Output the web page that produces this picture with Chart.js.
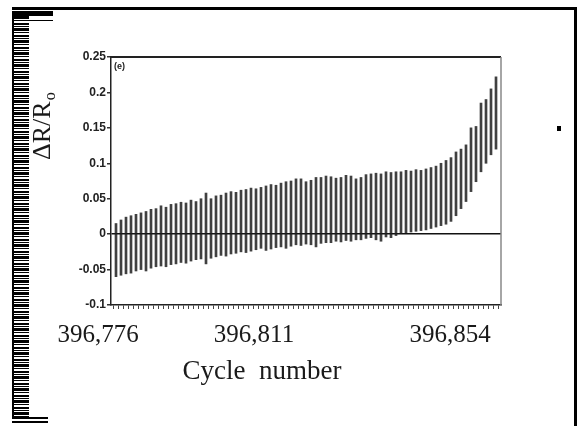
<!DOCTYPE html>
<html>
<head>
<meta charset="utf-8">
<script src="https://cdn.jsdelivr.net/npm/chart.js@4/dist/chart.umd.min.js"></script>
<style>
  html, body { margin: 0; padding: 0; background: #fff; }
  #wrap { position: relative; width: 581px; height: 426px; overflow: hidden; }
  canvas { position: absolute; left: 0; top: 0; }
  .frameTop { position: absolute; left: 12px; top: 7px; width: 565px; height: 3px; background: #000; }
  .frameRight { position: absolute; left: 574px; top: 7px; width: 3px; height: 419px; background: #000; }
  .strip { position: absolute; left: 12px; top: 11px; width: 15px; height: 408px;
    border-left: 2px solid #000;
    background: repeating-linear-gradient(to bottom, #000 0 2px, #fff 2px 3px, #000 3px 4px, #fff 4px 5px, #000 5px 8px, #fff 8px 9px, #000 9px 10px, #fff 10px 12px); }
  .block { position: absolute; left: 12px; top: 11px; width: 41px; height: 5px; background: #000; }
  .block2 { position: absolute; left: 27px; top: 20px; width: 26px; height: 1px; background: #000; }
  .foot { position: absolute; left: 12px; top: 417px; width: 36px; height: 2px; background: #000; }
  .foot2 { position: absolute; left: 12px; top: 421px; width: 36px; height: 2px; background: #000; }
  .dot { position: absolute; left: 557px; top: 126px; width: 4px; height: 5px; background: #000; }
</style>
</head>
<body>
<div id="wrap">
  <canvas id="chartCanvas" width="581" height="426"></canvas>
  <div class="frameTop"></div>
  <div class="frameRight"></div>
  <div class="strip"></div>
  <div class="block"></div>
  <div class="block2"></div>
  <div class="foot"></div>
  <div class="foot2"></div>
  <div class="dot"></div>
</div>
<script>
// cycle numbers, one swing per cycle
const cycles = [
  396777, 396778, 396779, 396780, 396781, 396782, 396783, 396784, 396785, 396786,
  396787, 396788, 396789, 396790, 396791, 396792, 396793, 396794, 396795, 396796,
  396797, 396798, 396799, 396800, 396801, 396802, 396803, 396804, 396805, 396806,
  396807, 396808, 396809, 396810, 396811, 396812, 396813, 396814, 396815, 396816,
  396817, 396818, 396819, 396820, 396821, 396822, 396823, 396824, 396825, 396826,
  396827, 396828, 396829, 396830, 396831, 396832, 396833, 396834, 396835, 396836,
  396837, 396838, 396839, 396840, 396841, 396842, 396843, 396844, 396845, 396846,
  396847, 396848, 396849, 396850, 396851, 396852, 396853
];

// peak of each cycle (dR/Ro)
const highs = [
  0.015, 0.020, 0.024, 0.026, 0.028, 0.030, 0.032, 0.035, 0.036, 0.040,
  0.038, 0.042, 0.043, 0.045, 0.044, 0.048, 0.046, 0.050, 0.058, 0.050,
  0.054, 0.055, 0.058, 0.060, 0.059, 0.062, 0.063, 0.065, 0.064, 0.066,
  0.068, 0.070, 0.069, 0.072, 0.074, 0.075, 0.078, 0.078, 0.074, 0.076,
  0.080, 0.080, 0.082, 0.081, 0.079, 0.080, 0.083, 0.082, 0.078, 0.080,
  0.084, 0.085, 0.086, 0.085, 0.088, 0.087, 0.088, 0.088, 0.090, 0.089,
  0.091, 0.090, 0.092, 0.094, 0.096, 0.100, 0.104, 0.108, 0.116, 0.120,
  0.126, 0.150, 0.152, 0.185, 0.190, 0.205, 0.222
];

// trough of each cycle
const lows = [
  -0.060, -0.058, -0.056, -0.055, -0.052, -0.050, -0.052, -0.048, -0.046, -0.045,
  -0.046, -0.043, -0.042, -0.040, -0.041, -0.038, -0.036, -0.035, -0.042, -0.034,
  -0.032, -0.030, -0.031, -0.028, -0.027, -0.025, -0.026, -0.024, -0.022, -0.020,
  -0.023, -0.021, -0.019, -0.018, -0.020, -0.017, -0.015, -0.016, -0.014, -0.015,
  -0.018, -0.013, -0.012, -0.012, -0.010, -0.011, -0.009, -0.010, -0.008, -0.008,
  -0.006, -0.005, -0.008, -0.010, -0.004, -0.005, -0.002, 0.000, 0.002, 0.003,
  0.004, 0.005, 0.006, 0.008, 0.010, 0.012, 0.014, 0.018, 0.026, 0.036,
  0.046, 0.060, 0.074, 0.088, 0.100, 0.112, 0.120
];

const xTickLabels = ["396,776", "396,811", "396,854"];
const yTickValues = [-0.1, -0.05, 0, 0.05, 0.1, 0.15, 0.2, 0.25];

const serif = "'Liberation Serif', 'DejaVu Serif', serif";

// texts drawn by hand so they sit where the scan has them
const textPlugin = {
  id: "texts",
  afterDraw(chart) {
    const { ctx, chartArea: a } = chart;
    ctx.save();
    // top and right frame of the plot
    ctx.strokeStyle = "#222";
    ctx.lineWidth = 2;
    ctx.beginPath();
    ctx.moveTo(a.left, a.top);
    ctx.lineTo(a.right, a.top);
    ctx.stroke();
    ctx.strokeStyle = "#888";
    ctx.lineWidth = 1.5;
    ctx.beginPath();
    ctx.moveTo(a.right, a.top);
    ctx.lineTo(a.right, a.bottom);
    ctx.stroke();

    ctx.fillStyle = "#222";
    ctx.font = "bold 9px 'Liberation Sans', Arial, sans-serif";
    ctx.textAlign = "left";
    ctx.textBaseline = "alphabetic";
    ctx.fillText("(e)", a.left + 3, a.top + 12);

    // x labels
    ctx.fillStyle = "#1a1a1a";
    ctx.font = "25px " + serif;
    ctx.textAlign = "center";
    ctx.textBaseline = "middle";
    const xPos = [98, 254, 450];
    xTickLabels.forEach((t, i) => ctx.fillText(t, xPos[i], 335));
    ctx.font = "27px " + serif;
    ctx.fillText("Cycle  number", 262, 372);

    // y title
    ctx.translate(50, 160);
    ctx.rotate(-Math.PI / 2);
    ctx.textAlign = "left";
    ctx.textBaseline = "alphabetic";
    ctx.font = "26px " + serif;
    ctx.fillText("\u0394R/R", 0, 0);
    const w = ctx.measureText("\u0394R/R").width;
    ctx.font = "16px " + serif;
    ctx.fillText("o", w + 1, 5);
    ctx.restore();
  }
};

new Chart(document.getElementById("chartCanvas").getContext("2d"), {
  type: "bar",
  data: {
    datasets: [{
      data: cycles.map((c, i) => ({ x: c, y: [lows[i], highs[i]] })),
      backgroundColor: "rgba(30,30,30,0.85)",
      borderWidth: 0,
      barThickness: 2
    }]
  },
  options: {
    responsive: false,
    animation: false,
    layout: { padding: { top: 57, right: 80, left: 0, bottom: 0 } },
    plugins: { legend: { display: false }, tooltip: { enabled: false } },
    scales: {
      x: {
        type: "linear",
        min: 396776,
        max: 396854,
        offset: false,
        ticks: { display: false, stepSize: 1, autoSkip: false },
        grid: { drawOnChartArea: false, drawTicks: true, tickLength: 4, tickColor: "#444", lineWidth: 1 },
        border: { color: "#222", width: 1.5 },
        afterFit: s => { s.height = 121; }
      },
      y: {
        min: -0.1,
        max: 0.25,
        afterBuildTicks: s => { s.ticks = yTickValues.map(v => ({ value: v })); },
        ticks: {
          callback: v => String(+v.toFixed(2)),
          font: { family: "'Liberation Sans', Arial, sans-serif", size: 12, weight: "bold" },
          color: "#222",
          padding: 1
        },
        grid: {
          color: c => (c.tick && c.tick.value === 0 ? "#111" : "rgba(0,0,0,0)"),
          lineWidth: 1.5,
          tickColor: "#333",
          tickLength: 4
        },
        border: { color: "#222", width: 1.5 },
        afterFit: s => { s.width = 111; }
      }
    }
  },
  plugins: [textPlugin]
});
</script>
</body>
</html>
